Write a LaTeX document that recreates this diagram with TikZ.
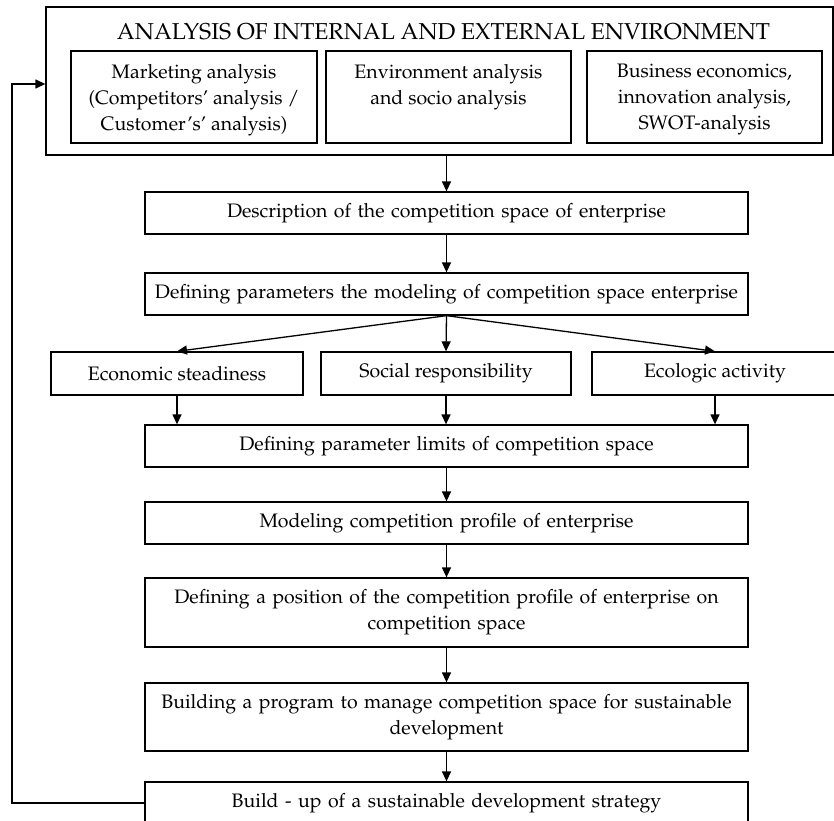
\documentclass[tikz,border=0pt]{standalone}
\usepackage[T1]{fontenc}
\usepackage{mathpazo}
\usetikzlibrary{arrows.meta}

\begin{document}
\begin{tikzpicture}[
    x=1pt, y=-1pt,
    every node/.style={font=\fontsize{19.5}{26}\selectfont},
    envbox/.style={rectangle, draw=black, line width=1.3pt, minimum width=787pt, minimum height=148pt},
    subbox/.style={rectangle, draw=black, line width=1.3pt, minimum height=92pt},
    subtext/.style={anchor=north, align=center, inner sep=0pt},
    stepbox/.style={rectangle, draw=black, line width=1.3pt, minimum width=603pt, minimum height=42pt, text width=595pt, align=center, inner sep=0pt},
    factorbox/.style={rectangle, draw=black, line width=1.3pt, minimum height=43pt, align=center},
    flow/.style={line width=1.3pt, -{Triangle[length=10pt, width=9pt]}}
]
\useasboundingbox (0,0) rectangle (834,820);

% ==================== INTERNAL AND EXTERNAL ENVIRONMENT ====================
\node[envbox] (envir) at (439.5, 81) {};
\node[font=\fontsize{23}{28}\selectfont, anchor=base] (envir_title) at (443.5, 39) {ANALYSIS OF INTERNAL AND EXTERNAL ENVIRONMENT};
\node[subbox, minimum width=246pt] (sub_mkt) at (194, 97) {};
\node[subbox, minimum width=245pt] (sub_env) at (448.5, 97) {};
\node[subbox, minimum width=235pt] (sub_bus) at (704.5, 97) {};
\node[subtext] (txt_mkt) at (194, 64) {Marketing analysis\\(Competitors' analysis /\\Customer's' analysis)};
\node[subtext] (txt_env) at (448.5, 64) {Environment analysis\\and socio analysis};
\node[subtext] (txt_bus) at (704.5, 64) {Business economics,\\innovation analysis,\\SWOT-analysis};

% ==================== COMPETITION SPACE ====================
\node[stepbox] (desc) at (446.5, 213) {Description of the competition space of enterprise};
\node[stepbox] (params) at (446.5, 294) {Defining parameters the modeling of competition space enterprise};
\node[factorbox, minimum width=252pt] (econ) at (177, 373.5) {Economic steadiness};
\node[factorbox, minimum width=250pt] (social) at (446, 373.5) {Social responsibility};
\node[factorbox, minimum width=246pt] (ecolog) at (715, 373.5) {Ecologic activity};
\node[stepbox] (limits) at (446.5, 446) {Defining parameter limits of competition space};

% ==================== COMPETITION PROFILE AND STRATEGY ====================
\node[stepbox] (profile) at (446.5, 523) {Modeling competition profile of enterprise};
\node[stepbox, minimum height=69pt] (position) at (446.5, 612.5) {Defining a position of the competition profile of enterprise on\\competition space};
\node[stepbox, minimum height=68pt] (program) at (446.5, 717) {Building a program to manage competition space for sustainable\\development};
\node[stepbox] (strategy) at (446.5, 803) {Build - up of a sustainable development strategy};

% ==================== ARROWS ====================
\draw[flow] (desc.north |- envir.south) -- (desc.north);
\draw[flow] (desc) -- (params);
\draw[flow] (params.south) -- (econ.north);
\draw[flow] (params.south) -- (social.north);
\draw[flow] (params.south) -- (ecolog.north);
\draw[flow] (econ.south) -- (econ.south |- limits.north);
\draw[flow] (social.south) -- (social.south |- limits.north);
\draw[flow] (ecolog.south) -- (ecolog.south |- limits.north);
\draw[flow] (limits) -- (profile);
\draw[flow] (profile) -- (position);
\draw[flow] (position) -- (program);
\draw[flow] (program) -- (strategy);

% feedback loop
\coordinate (loopback) at (12, 803);
\draw[flow] (strategy.west) -- (loopback) |- ([yshift=-3pt]envir.west);

\end{tikzpicture}
\end{document}
